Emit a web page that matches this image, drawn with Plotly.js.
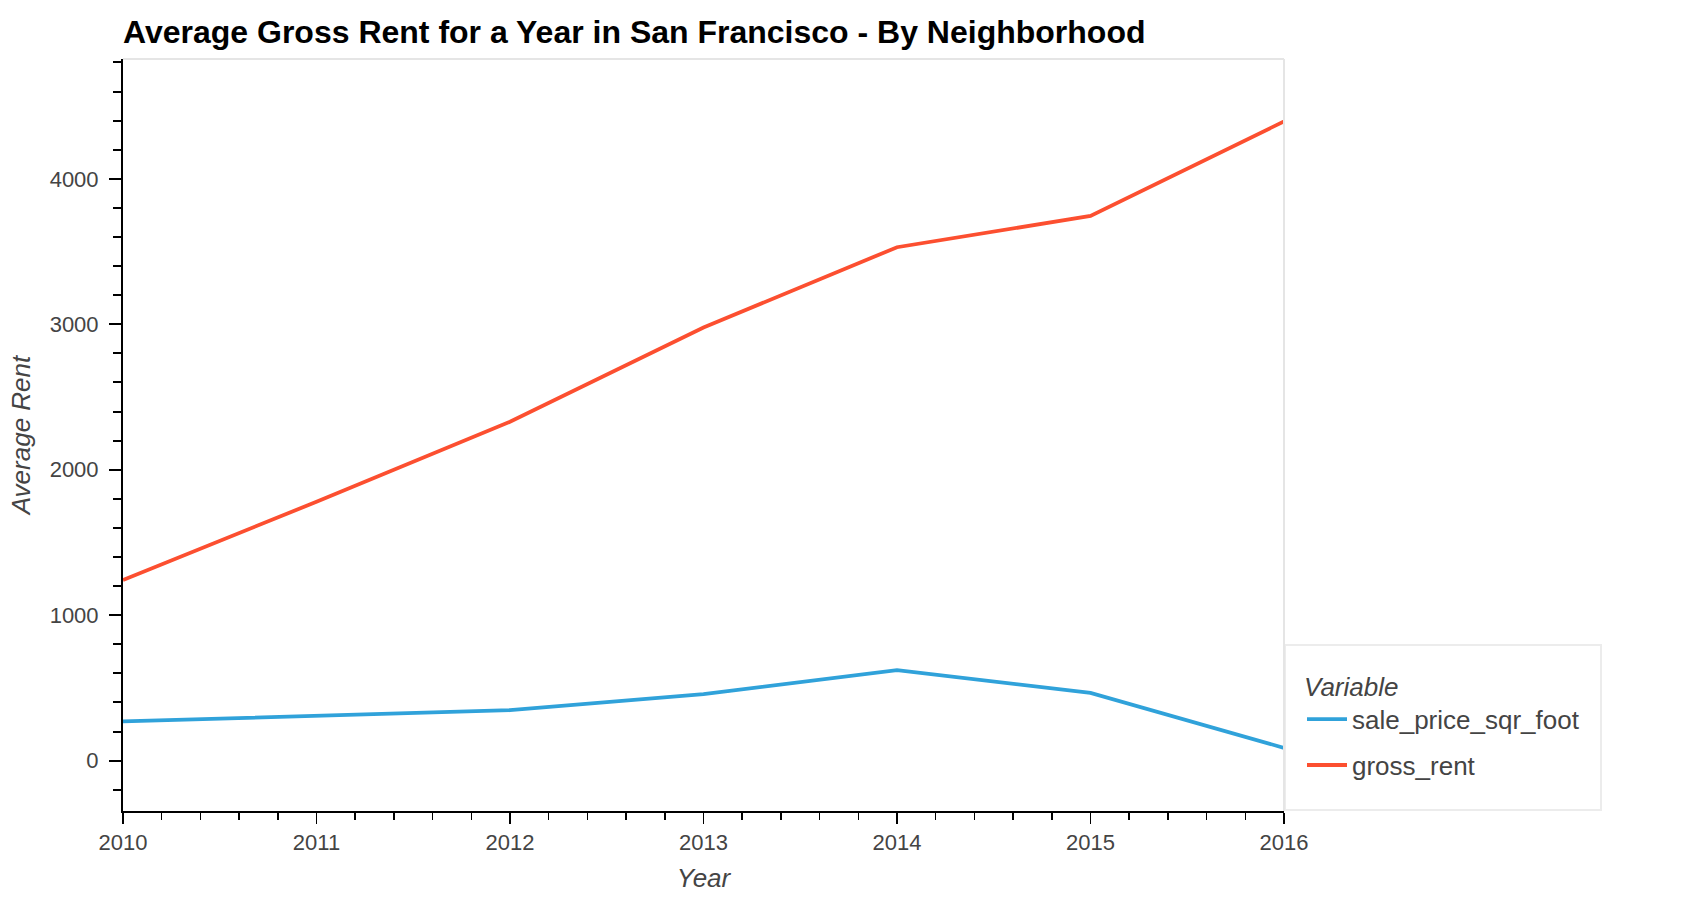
<!DOCTYPE html>
<html>
<head>
<meta charset="utf-8">
<script src="https://cdn.plot.ly/plotly-3.0.1.min.js"></script>
<style>html,body{margin:0;padding:0;background:#fff;}#chart{width:1700px;height:900px;}</style>
</head>
<body>
<div id="chart"></div>
<script>
const years = [2010, 2011, 2012, 2013, 2014, 2015, 2016];
const salePriceSqrFoot = [270, 308, 347, 458, 622, 466, 88];
const grossRent = [1242, 1780, 2330, 2978, 3530, 3745, 4395];
const seriesNames = ['sale_price_sqr_foot', 'gross_rent'];
const seriesColors = ['#30a2da', '#fc4f30'];

const FONT = 'Liberation Sans, Arial, Helvetica, sans-serif';
const L = 123, R = 1284, T = 59, B = 811;
const PW = R - L, PH = B - T;
const px2x = v => (v - L) / PW;
const px2y = v => (B - v) / PH;

const traces = [
  {x: years, y: salePriceSqrFoot, name: seriesNames[0], mode: 'lines',
   line: {color: seriesColors[0], width: 3.8}, legendgroup: 'a'},
  {x: years, y: grossRent, name: seriesNames[1], mode: 'lines',
   line: {color: seriesColors[1], width: 3.8}, legendgroup: 'b'}
];

const layout = {
  width: 1700, height: 900,
  paper_bgcolor: '#fff', plot_bgcolor: '#fff',
  margin: {l: L, r: 1700 - R, t: T, b: 900 - B, pad: 0},
  title: {
    text: '<b>Average Gross Rent for a Year in San Francisco - By Neighborhood</b>',
    font: {family: FONT, size: 32, color: '#000'},
    xref: 'paper', x: 0, xanchor: 'left',
    yref: 'container', y: 1 - 32 / 900, yanchor: 'middle'
  },
  xaxis: {
    range: [2010, 2016], tickmode: 'linear', tick0: 2010, dtick: 1,
    showgrid: false, zeroline: false,
    showline: true, linecolor: '#000', linewidth: 2,
    ticks: 'outside', ticklen: 11, tickwidth: 1.5, tickcolor: '#000',
    ticklabelstandoff: 0,
    minor: {ticks: 'outside', dtick: 0.2, ticklen: 7, tickwidth: 1.5, tickcolor: '#000', showgrid: false},
    tickfont: {family: FONT, size: 22, color: '#444'},
    title: {text: '<i>Year</i>', font: {family: FONT, size: 26, color: '#444'}, standoff: 14}
  },
  yaxis: {
    range: [-346, 4824], tickmode: 'linear', tick0: 0, dtick: 1000,
    showgrid: false, zeroline: false,
    showline: true, linecolor: '#000', linewidth: 2,
    ticks: 'outside', ticklen: 12, tickwidth: 2, tickcolor: '#000',
    ticklabelstandoff: 6,
    minor: {ticks: 'outside', dtick: 200, ticklen: 8, tickwidth: 2, tickcolor: '#000', showgrid: false},
    tickfont: {family: FONT, size: 22, color: '#444'},
    title: {text: '<i>Average Rent</i>', font: {family: FONT, size: 26, color: '#444'}, standoff: 12}
  },
  showlegend: true,
  legend: {
    x: px2x(1302), xanchor: 'left', y: px2y(662), yanchor: 'top',
    bgcolor: 'rgba(0,0,0,0)', borderwidth: 0,
    font: {family: FONT, size: 26, color: '#444'},
    title: {text: '<i>Variable</i>', font: {family: FONT, size: 26, color: '#444'}},
    itemwidth: 40, tracegroupgap: 9, traceorder: 'grouped'
  },
  shapes: [
    {type: 'line', xref: 'paper', yref: 'paper', x0: 0, x1: 1, y0: 1, y1: 1,
     line: {color: '#e5e5e5', width: 2}},
    {type: 'line', xref: 'paper', yref: 'paper', x0: 1, x1: 1, y0: 0, y1: 1,
     line: {color: '#e5e5e5', width: 2}},
    {type: 'rect', xref: 'paper', yref: 'paper', layer: 'below',
     x0: px2x(1285), x1: px2x(1601), y0: px2y(810), y1: px2y(645),
     line: {color: '#ececec', width: 2}, fillcolor: '#fff'}
  ]
};

Plotly.newPlot('chart', traces, layout, {displayModeBar: false, staticPlot: true});
</script>
</body>
</html>
